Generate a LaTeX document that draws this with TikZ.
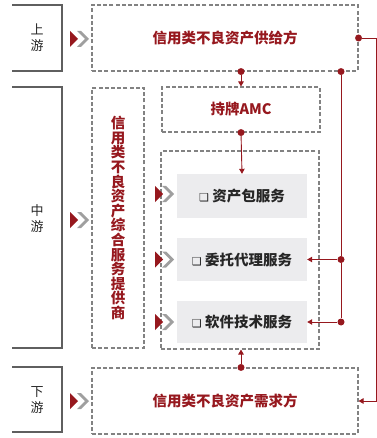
\documentclass[tikz,border=0pt]{standalone}
\usepackage{fontspec}
\newfontfamily\cjk{Noto Sans CJK SC}
\newfontfamily\sym{DejaVu Sans}
\usetikzlibrary{arrows.meta}
\definecolor{dred}{RGB}{150,24,30}
\definecolor{dgray}{RGB}{130,130,130}
\definecolor{sgray}{RGB}{236,236,238}
\definecolor{lgray}{RGB}{95,95,95}
\newcommand\cbox{{\sym\bfseries\fontsize{11}{11}\selectfont ❑}}
\begin{document}
\begin{tikzpicture}[x=1pt,y=-1pt,
  dbox/.style={draw=dgray, line width=1.1pt, dash pattern=on 4pt off 2.2pt, inner sep=0pt,
    font=\cjk\bfseries\fontsize{14.5}{14.6}\selectfont, text=dred},
  svc/.style={fill=sgray, minimum width=130pt, inner sep=0pt,
    font=\cjk\bfseries\fontsize{14.5}{17}\selectfont, text=black!85},
  lbl/.style={font=\cjk\fontsize{13}{16}\selectfont, text=black!85, align=center},
  side/.style={draw=lgray, line width=1.2pt},
  conn/.style={draw=dred, line width=0.9pt},
  dot/.style={circle, fill=dred, inner sep=0pt, minimum size=7pt},
  arr/.style={conn, -{Triangle[length=5pt,width=5.5pt]}},
  chev/.pic={\fill[dred] (-8,-8)--(0,0)--(-8,8)--cycle;
             \fill[gray!75] (-1,-8)--(3,-8)--(11,0)--(3,8)--(-1,8)--(7,0)--cycle;}
]
\useasboundingbox (0,0) rectangle (376,438);

% stage brackets
\draw[side] (12,5) -- (62,5) -- (62,71) -- (12,71);
\draw[side] (12,87) -- (62,87) -- (62,348) -- (12,348);
\draw[side] (12,367) -- (62,367) -- (62,432) -- (12,432);
\node[lbl] (up) at (37,38) {上\\游};
\node[lbl] (mi) at (37,219) {中\\游};
\node[lbl] (dn) at (37,400) {下\\游};

% big chevrons
\pic at (78,39) {chev};
\pic at (78,220) {chev};
\pic at (78,401) {chev};

% dashed boxes
\node[dbox, minimum width=266pt, minimum height=66pt] (sup) at (225,38) {信用类不良资产供给方};
\node[dbox, minimum width=52pt, minimum height=260pt, align=center] (mid) at (118,218)
  {信\\用\\类\\不\\良\\资\\产\\综\\合\\服\\务\\提\\供\\商};
\node[dbox, minimum width=158pt, minimum height=45pt] (amc) at (241,109.5) {持牌AMC};
\node[dbox, minimum width=158pt, minimum height=198pt] (svcbox) at (240,250) {};
\node[dbox, minimum width=266pt, minimum height=66pt] (dem) at (225,401) {信用类不良资产需求方};

% service boxes
\node[svc, minimum height=44pt] (s1) at (242,196) {\cbox\ 资产包服务};
\node[svc, minimum height=43pt] (s2) at (242,259.5) {\cbox\ 委托代理服务};
\node[svc, minimum height=42pt] (s3) at (242,322) {\cbox\ 软件技术服务};

% small chevrons
\pic at (163,194) {chev};
\pic at (163,259.5) {chev};
\pic at (163,322) {chev};

% central connectors
\node[dot] (d1) at (sup.south -| amc.north) {};
\draw[arr] (d1) -- (amc.north);
\node[dot] (d2) at (amc.south) {};
\draw[arr] (d2) -- (s1.north);
\node[dot] (d3) at (dem.north -| amc.north) {};
\draw[arr] (d3) -- (svcbox.south -| d3);

% right connectors
\coordinate (rx) at (341,0);
\node[dot] (d4) at (sup.south -| rx) {};
\node[dot] (d5) at (s2.east -| rx) {};
\node[dot] (d6) at (s3.east -| rx) {};
\draw[conn] (d4) -- (d5);
\draw[conn] (d5) -- (d6);
\draw[arr] (d5) -- (s2.east);
\draw[arr] (d6) -- (s3.east);

% far right connector
\coordinate (fr) at (376,0);
\node[dot] (d7) at (sup.east) {};
\draw[arr] (d7) -- (d7 -| fr) -- (dem.east -| fr) -- (dem.east);
\end{tikzpicture}
\end{document}
